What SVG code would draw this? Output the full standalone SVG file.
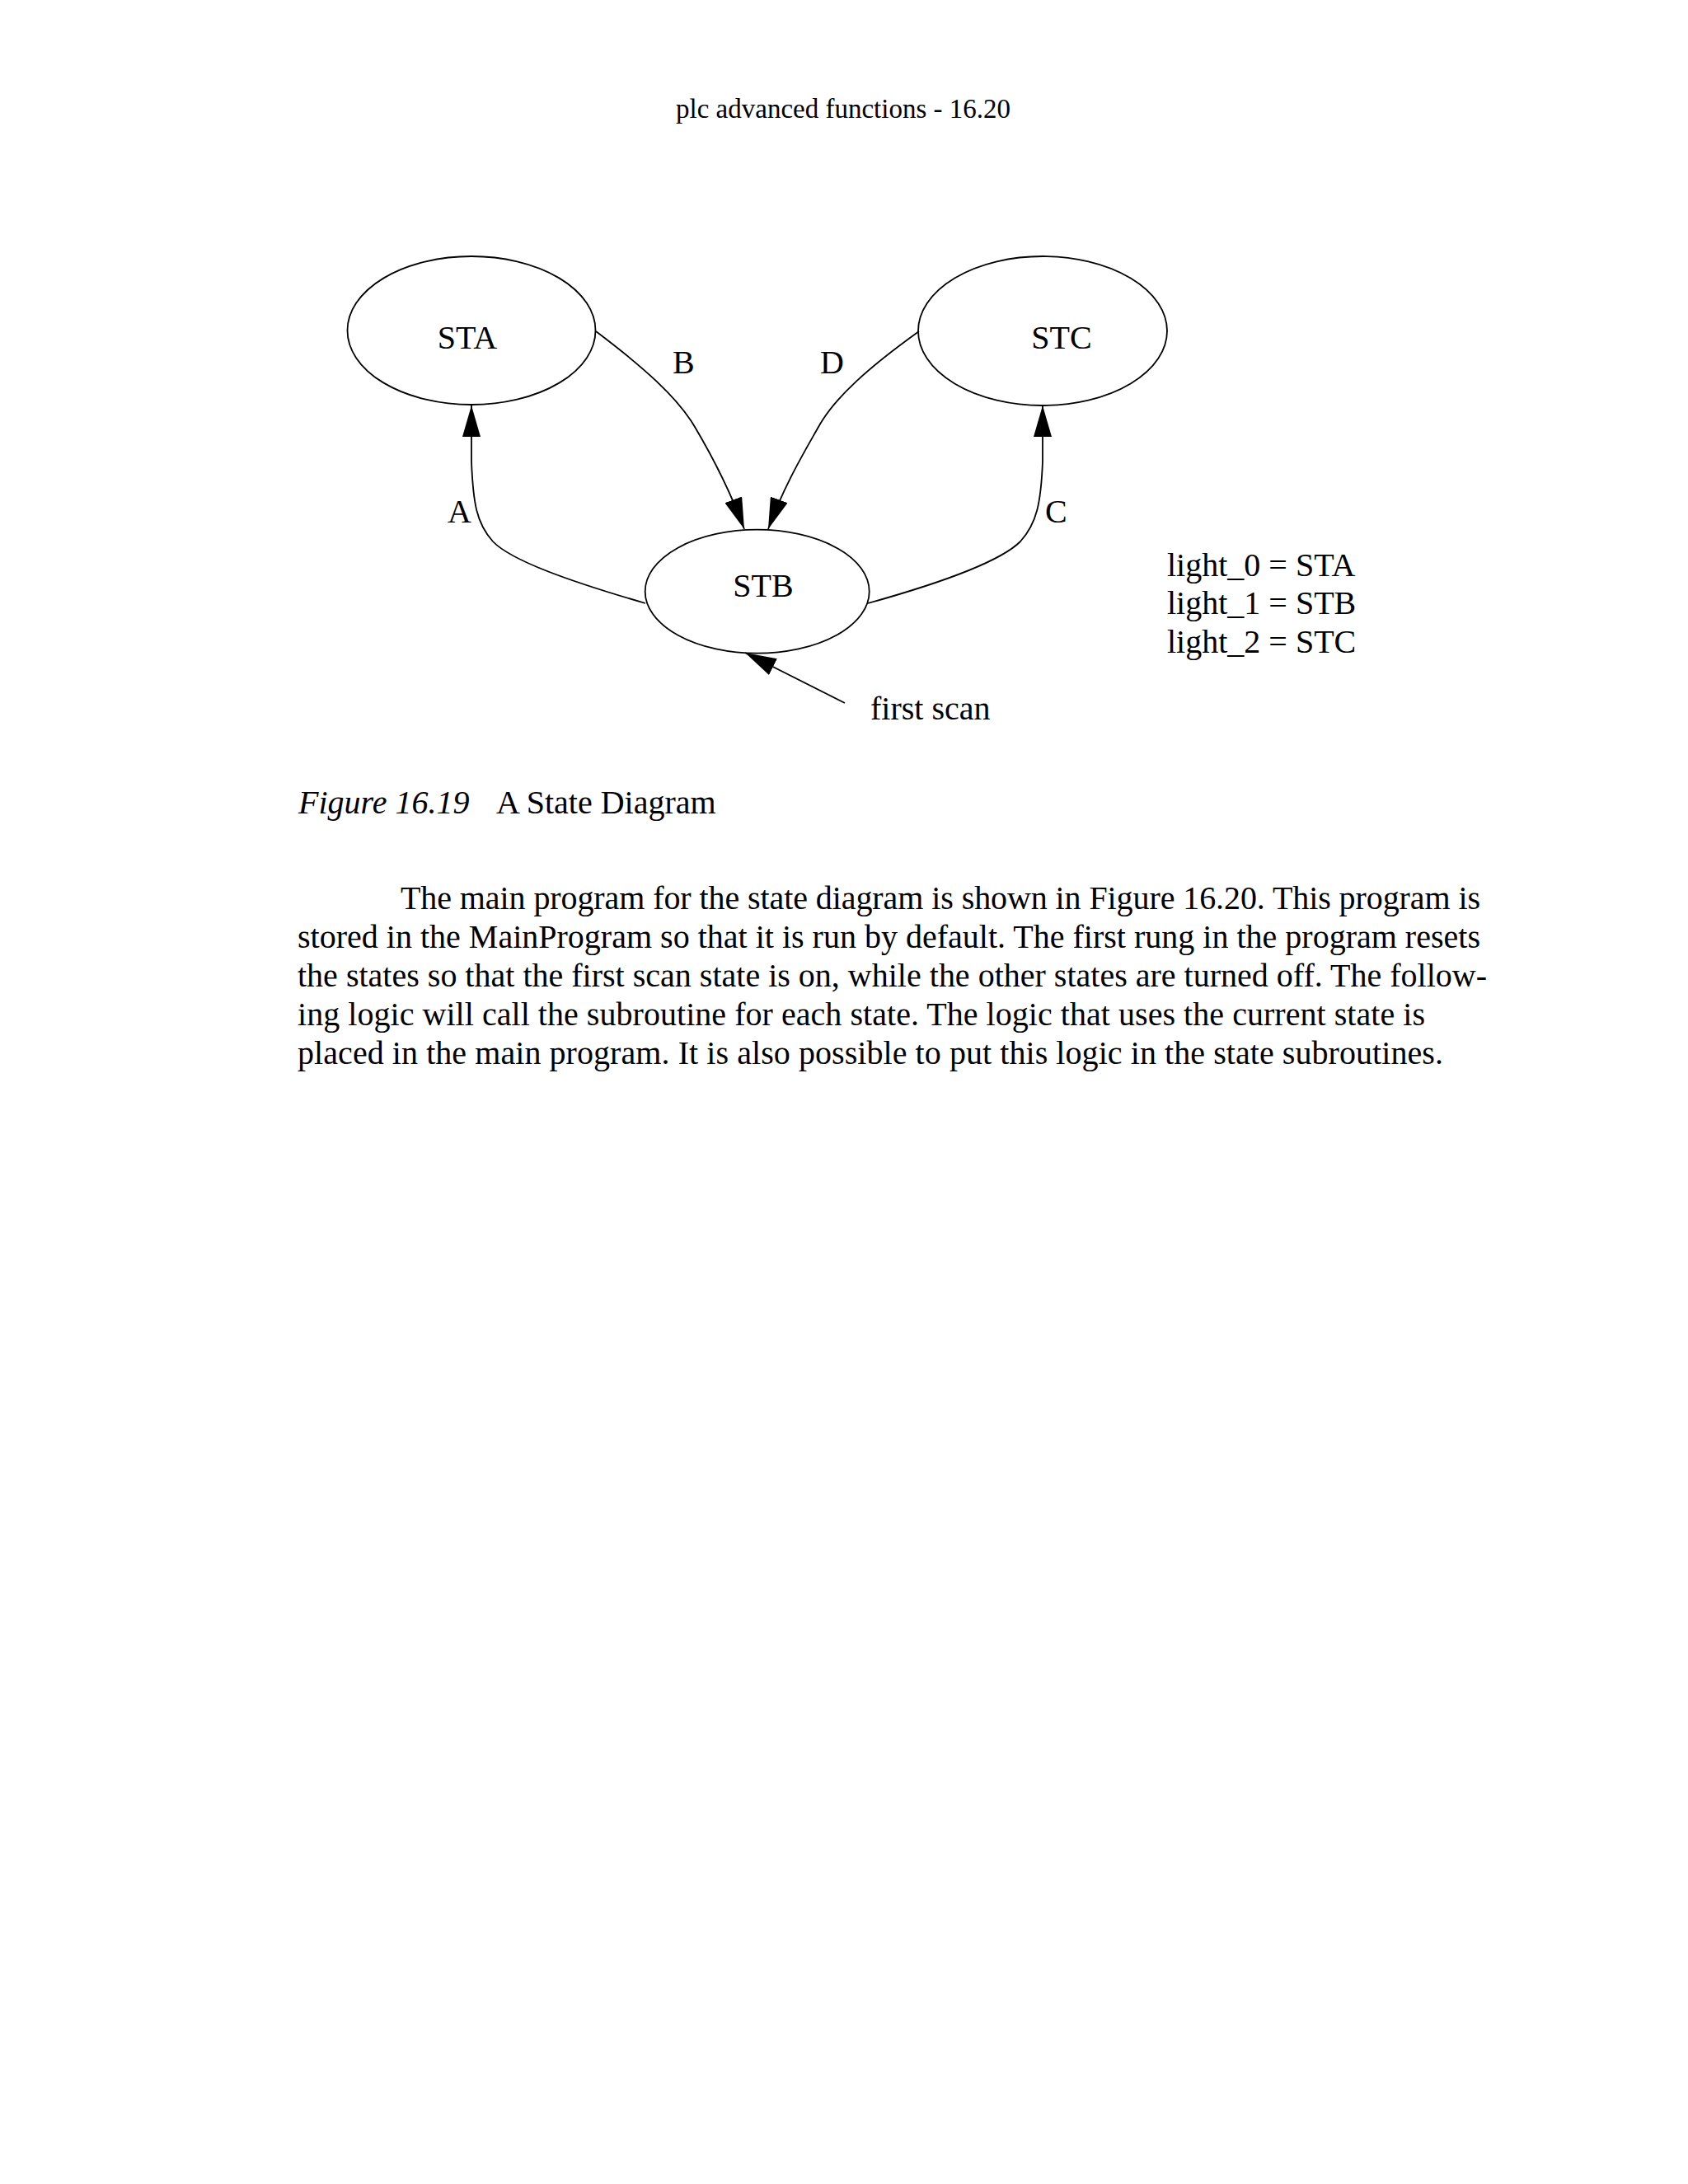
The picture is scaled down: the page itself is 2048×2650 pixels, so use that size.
<svg xmlns="http://www.w3.org/2000/svg" width="2048" height="2650" viewBox="0 0 2048 2650">
<style>
.node{fill:none;stroke:#000;stroke-width:1.8}
.edge{fill:none;stroke:#000;stroke-width:1.8}
.t{font-family:"Liberation Serif","Times New Roman",serif;font-size:40px;fill:#000}
.mid{text-anchor:middle}
</style>
<defs>
<marker id="arr" markerUnits="userSpaceOnUse" viewBox="0 0 38 22" refX="38" refY="11" markerWidth="38" markerHeight="22" orient="auto">
<path d="M0,0 L38,11 L0,22 Z" fill="#000"/>
</marker>
</defs>
<rect width="2048" height="2650" fill="#fff"/>
<text class="t mid" x="1023" y="143" style="font-size:33px">plc advanced functions - 16.20</text>
<g id="STA"><ellipse class="node" cx="572" cy="401" rx="150.5" ry="90"/><text class="t mid" x="567" y="423">STA</text></g>
<g id="STC"><ellipse class="node" cx="1265" cy="401.5" rx="151" ry="90.5"/><text class="t mid" x="1288" y="423">STC</text></g>
<g id="STB"><ellipse class="node" cx="918.7" cy="717.7" rx="136" ry="75"/><text class="t mid" x="926" y="724">STB</text></g>
<g id="connectors">
<path class="edge" marker-end="url(#arr)" d="M783,732 C690,705 620,680 598,657 C578,635 574,610 572,560 L572,492"/>
<path class="edge" marker-end="url(#arr)" d="M1053,732 C1150,705 1215,680 1238,657 C1258,635 1263,610 1265,560 L1265,492"/>
<path class="edge" marker-end="url(#arr)" d="M723,402 C780,445 822,482 843,518 C862,550 883,588 903,642"/>
<path class="edge" marker-end="url(#arr)" d="M1115,402 C1055,445 1013,482 993,518 C975,550 952,588 932,642"/>
<path class="edge" marker-end="url(#arr)" d="M1025,853 L904,792"/>
<text class="t" x="543" y="634">A</text>
<text class="t" x="816" y="453">B</text>
<text class="t" x="1268" y="634">C</text>
<text class="t" x="995" y="453">D</text>
<text class="t" x="1056" y="873">first scan</text>
</g>
<g id="legend">
<text class="t" x="1416" y="699">light_0 = STA</text>
<text class="t" x="1416" y="745">light_1 = STB</text>
<text class="t" x="1416" y="792">light_2 = STC</text>
</g>
<g id="caption">
<text class="t" x="362" y="987"><tspan font-style="italic">Figure 16.19</tspan><tspan x="602">A State Diagram</tspan></text>
</g>
<g id="paragraph">
<text class="t" x="486" y="1103" textLength="1310" lengthAdjust="spacing">The main program for the state diagram is shown in Figure 16.20. This program is</text>
<text class="t" x="361" y="1150" textLength="1435" lengthAdjust="spacing">stored in the MainProgram so that it is run by default. The first rung in the program resets</text>
<text class="t" x="361" y="1197" textLength="1443" lengthAdjust="spacing">the states so that the first scan state is on, while the other states are turned off. The follow-</text>
<text class="t" x="361" y="1244" textLength="1368" lengthAdjust="spacing">ing logic will call the subroutine for each state. The logic that uses the current state is</text>
<text class="t" x="361" y="1291" textLength="1390" lengthAdjust="spacing">placed in the main program. It is also possible to put this logic in the state subroutines.</text>
</g>
</svg>
